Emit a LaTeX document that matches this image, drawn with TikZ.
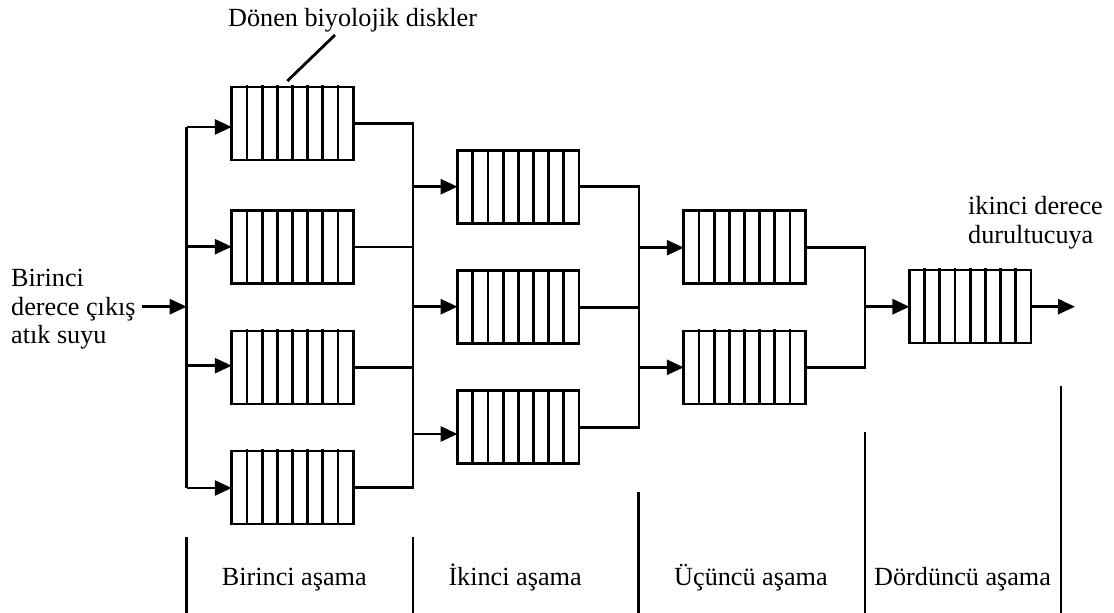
\documentclass[tikz,border=0pt]{standalone}
\usepackage{fontspec}
\setmainfont{Liberation Serif}
\usetikzlibrary{arrows.meta,calc}

\tikzset{
  wire/.style={line width=2.8pt},
  flow/.style={wire, -{Triangle[length=17pt,width=15pt]}},
  rbc/.style={draw, line width=2.8pt, minimum width=121.5pt, minimum height=73pt,
              inner sep=0pt, outer sep=0pt, fill=white},
  lbl/.style={inner sep=0pt, anchor=base west,
              font=\fontsize{26.2pt}{28.3pt}\selectfont}
}

% seven disc separators across one contactor
\newcommand\rbcdiscs[1]{%
  \foreach \k in {1,...,7}{%
    \draw[wire] ($(#1.south west)!\k/8!(#1.south east)$) --
                ($(#1.north west)!\k/8!(#1.north east)+(0pt,1.7pt)$);}}

\begin{document}
\begin{tikzpicture}[x=1pt,y=-1pt]
\useasboundingbox (0,0) rectangle (1114,613);

% contactors, stage by stage
\node[rbc] (s1a) at (292.5,123.5) {};
\node[rbc] (s1b) at (292.5,247) {};
\node[rbc] (s1c) at (292.5,367.5) {};
\node[rbc] (s1d) at (292.5,487.5) {};
\node[rbc] (s2a) at (518.3,186.7) {};
\node[rbc] (s2b) at (518.3,307.3) {};
\node[rbc] (s2c) at (518.3,427.3) {};
\node[rbc] (s3a) at (744.5,247.3) {};
\node[rbc] (s3b) at (744.5,367.5) {};
\node[rbc] (s4)  at (970.2,306.5) {};
\foreach \n in {s1a,s1b,s1c,s1d,s2a,s2b,s2c,s3a,s3b,s4} {\rbcdiscs{\n}}

% inflow and distribution to the first stage
\coordinate (feed) at (141.7,306.7);
\coordinate (bus0) at (186.7,306.7);
\coordinate (b0a) at (186.7,127);
\coordinate (b0b) at (186.7,246.7);
\coordinate (b0c) at (186.7,365.7);
\coordinate (b0d) at (186.7,488);
\draw[wire] (b0a) -- (b0d);
\draw[flow] (feed) -- (bus0);
\foreach \c/\n in {b0a/s1a,b0b/s1b,b0c/s1c,b0d/s1d}
  \draw[flow] (\c) -- (\c -| \n.west);

% first stage to second stage
\coordinate (m1) at (413,300);
\draw[wire] (s1a.east) -| (m1) |- (s1d.east);
\draw[wire] (s1b.east) -- (s1b.east -| m1);
\draw[wire] (s1c.east) -- (s1c.east -| m1);
\coordinate (f2a) at (413,186.7);
\coordinate (f2b) at (413,306.7);
\coordinate (f2c) at (413,434);
\foreach \c/\n in {f2a/s2a,f2b/s2b,f2c/s2c}
  \draw[flow] (\c) -- (\c -| \n.west);

% second stage to third stage
\coordinate (m2) at (639,300);
\draw[wire] (s2a.east) -| (m2) |- (s2c.east);
\draw[wire] (s2b.east) -- (s2b.east -| m2);
\coordinate (f3a) at (639,247.7);
\coordinate (f3b) at (639,367.3);
\foreach \c/\n in {f3a/s3a,f3b/s3b}
  \draw[flow] (\c) -- (\c -| \n.west);

% third stage to fourth stage and outflow
\coordinate (m3) at (865,300);
\draw[wire] (s3a.east) -| (m3) |- (s3b.east);
\coordinate (f4) at (865,306.7);
\draw[flow] (f4) -- (f4 -| s4.west);
\coordinate (out) at (1075,306.7);
\draw[flow] (s4.east) -- (out);

% labels
\node[lbl] (ttop) at (228,26.7) {Dönen biyolojik diskler};
\coordinate (lead1) at (287.3,81);
\coordinate (lead2) at (335,35);
\draw[wire] (lead1) -- (lead2);

% multi-line labels are placed by the baseline of their last line
\node[lbl, align=left] (tin) at (11,343.3) {Birinci\\derece çıkış\\atık suyu};
\node[lbl, align=left] (tout) at (968,243) {ikinci derece\\durultucuya};

% stage boundaries
\coordinate (d1a) at (186.7,537);   \coordinate (d1b) at (186.7,613);
\coordinate (d2a) at (413,537);     \coordinate (d2b) at (413,613);
\coordinate (d3a) at (638.3,491.7); \coordinate (d3b) at (638.3,613);
\coordinate (d4a) at (865,431.7);   \coordinate (d4b) at (865,613);
\coordinate (d5a) at (1061,385.7);  \coordinate (d5b) at (1061,613);
\foreach \i in {1,...,5} \draw[wire] (d\i a) -- (d\i b);

\node[lbl] (st1) at (221.7,585.7) {Birinci aşama};
\node[lbl] (st2) at (448.3,585.7) {İkinci aşama};
\node[lbl] (st3) at (674,585.7) {Üçüncü aşama};
\node[lbl] (st4) at (874,585.7) {Dördüncü aşama};
\end{tikzpicture}
\end{document}
